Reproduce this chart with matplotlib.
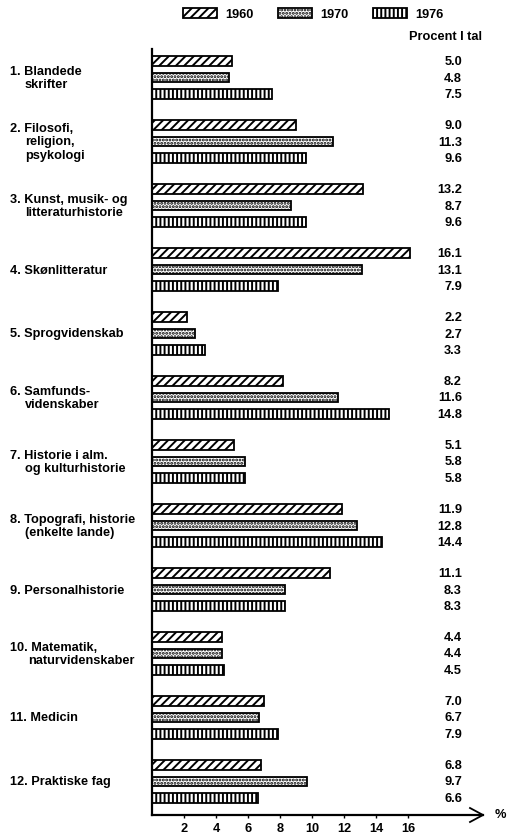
import matplotlib
matplotlib.use("Agg")
import matplotlib.pyplot as plt
from matplotlib.patches import Rectangle
from matplotlib.transforms import blended_transform_factory
import numpy as np

# --- data -----------------------------------------------------------------
categories = [
    ["1. Blandede", "skrifter"],
    ["2. Filosofi,", "religion,", "psykologi"],
    ["3. Kunst, musik- og", "litteraturhistorie"],
    ["4. Skønlitteratur"],
    ["5. Sprogvidenskab"],
    ["6. Samfunds-", "videnskaber"],
    ["7. Historie i alm.", "og kulturhistorie"],
    ["8. Topografi, historie", "(enkelte lande)"],
    ["9. Personalhistorie"],
    ["10. Matematik,", "naturvidenskaber"],
    ["11. Medicin"],
    ["12. Praktiske fag"],
]
years = ["1960", "1970", "1976"]
v1960 = [5.0, 9.0, 13.2, 16.1, 2.2, 8.2, 5.1, 11.9, 11.1, 4.4, 7.0, 6.8]
v1970 = [4.8, 11.3, 8.7, 13.1, 2.7, 11.6, 5.8, 12.8, 8.3, 4.4, 6.7, 9.7]
v1976 = [7.5, 9.6, 9.6, 7.9, 3.3, 14.8, 5.8, 14.4, 8.3, 4.5, 7.9, 6.6]
xticks = [2, 4, 6, 8, 10, 12, 14, 16]

series = [v1960, v1970, v1976]
hatches = ["////", ".....", "||||"]

# --- layout -----------------------------------------------------------------
W, H = 514, 837
plt.rcParams["font.family"] = ["Liberation Sans", "DejaVu Sans"]
plt.rcParams["font.weight"] = "bold"
plt.rcParams["hatch.linewidth"] = 1.4
FS = 9.2

fig = plt.figure(figsize=(W / 100, H / 100), dpi=100)
fig.patch.set_facecolor("white")

def fx(px):
    return px / W

def fy(py):
    return 1 - py / H

ax_l, ax_r, ax_t, ax_b = 152, 483, 50, 816
ax = fig.add_axes([fx(ax_l), fy(ax_b), fx(ax_r) - fx(ax_l), fy(ax_t) - fy(ax_b)])

px_per_unit = 16.0
ax.set_xlim(0, (ax_r - ax_l) / px_per_unit)
group_px = 64.0
first_center_px = 78.5
ax.set_ylim((ax_b - first_center_px) / group_px, (ax_t - first_center_px) / group_px)

offset = 16.5 / group_px
bar_h = 9.5 / group_px
idx = np.arange(len(categories))

for k, vals in enumerate(series):
    ax.barh(idx + (k - 1) * offset, vals, height=bar_h, left=0,
            facecolor="white", edgecolor="black", linewidth=1.3,
            hatch=hatches[k], zorder=2)

# value labels on the right
for k, vals in enumerate(series):
    for i, v in enumerate(vals):
        ax.text((462 - ax_l) / px_per_unit, i + (k - 1) * offset, f"{v:.1f}",
                ha="right", va="center", fontsize=FS, fontweight="bold",
                clip_on=False)

# spines / axis
for s in ["top", "right"]:
    ax.spines[s].set_visible(False)
ax.spines["left"].set_linewidth(1.6)
ax.spines["bottom"].set_linewidth(1.6)
ax.set_yticks([])
ax.set_xticks(xticks)
ax.set_xticklabels([str(t) for t in xticks], fontsize=FS, fontweight="bold")
ax.tick_params(axis="x", length=2.5, width=1, direction="out", pad=2.5)

# arrow head at the end of the x axis
xe = (ax_r - ax_l) / px_per_unit
hx = 13 / px_per_unit
hy = 7 / group_px
ylo = ax.get_ylim()[0]
ax.plot([xe - hx, xe, xe - hx], [ylo - hy, ylo, ylo + hy], color="black",
        lw=1.3, clip_on=False, solid_joinstyle="miter")
fig.text(fx(495), fy(815), "%", ha="left", va="center", fontsize=FS,
         fontweight="bold")

# category labels on the left
tr = blended_transform_factory(fig.transFigure, ax.transData)
line_step = 13.8 / group_px
for i, lines in enumerate(categories):
    n = len(lines)
    num = lines[0].split(".")[0]
    indent = 25 if len(num) == 1 else 28
    for j, line in enumerate(lines):
        y = i + (j - (n - 1) / 2) * line_step
        x = 10 if j == 0 else indent
        ax.text(fx(x), y, line, transform=tr, ha="left", va="center",
                fontsize=FS, fontweight="bold", clip_on=False)

# legend
leg_x = [183, 278, 373]
for k, yr in enumerate(years):
    x0 = leg_x[k]
    fig.patches.append(Rectangle((fx(x0), fy(19)), fx(34), 10 / H,
                                 transform=fig.transFigure, facecolor="white",
                                 edgecolor="black", linewidth=1.3,
                                 hatch=hatches[k]))
    fig.text(fx(x0 + 42), fy(14.5), yr, ha="left", va="center", fontsize=FS,
             fontweight="bold")

fig.text(fx(482), fy(37), "Procent I tal", ha="right", va="center",
         fontsize=FS, fontweight="bold")

fig.savefig("out.png", dpi=100, facecolor="white")
